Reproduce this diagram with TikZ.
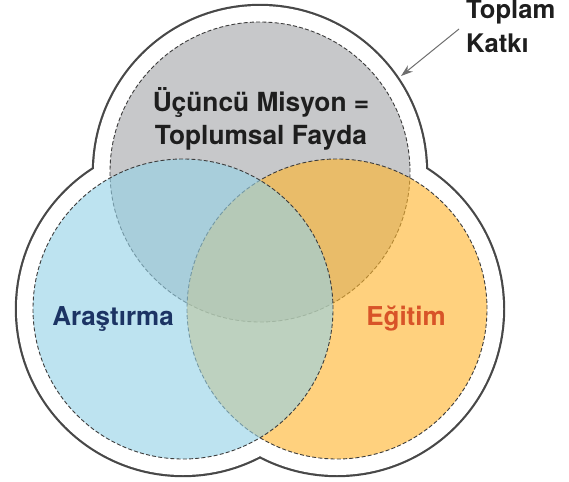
\documentclass[tikz,border=0pt]{standalone}
\usepackage{fontspec}
\setmainfont{TeX Gyre Heros}
\usetikzlibrary{arrows.meta}
\definecolor{outl}{RGB}{72,72,72}
\definecolor{dashc}{RGB}{60,60,60}
\definecolor{grayc}{RGB}{199,200,202}
\definecolor{bluec}{RGB}{150,210,231}
\definecolor{orangec}{RGB}{255,182,47}
\definecolor{navy}{RGB}{28,52,100}
\definecolor{rust}{RGB}{216,84,40}
\definecolor{txt}{RGB}{30,30,30}
\definecolor{arrc}{RGB}{110,110,110}
\tikzset{
  setborder/.style={draw=dashc, line width=0.9pt, dash pattern=on 4pt off 2.2pt},
  bigtxt/.style={font=\bfseries\fontsize{26.3}{32}\selectfont, inner sep=0pt, anchor=base},
}
\begin{document}
\begin{tikzpicture}[x=1pt,y=-1pt]
\useasboundingbox (0,0) rectangle (569,481);
\coordinate (T) at (260,172);
\coordinate (B) at (183,309);
\coordinate (O) at (337,309);
% outer outline (union)
\fill[outl] (T) circle[radius=168.2pt] (B) circle[radius=168.2pt] (O) circle[radius=168.2pt];
\fill[white] (T) circle[radius=166pt] (B) circle[radius=166pt] (O) circle[radius=166pt];
% circles
\fill[grayc] (T) circle[radius=150pt];
\path[setborder] (T) circle[radius=150pt];
\fill[orangec, fill opacity=0.62] (O) circle[radius=150pt];
\path[setborder] (O) circle[radius=150pt];
\fill[bluec, fill opacity=0.62] (B) circle[radius=150pt];
\path[setborder] (B) circle[radius=150pt];
% texts
\node[bigtxt, text=txt] (mis1) at (261,112) {Üçüncü Misyon =};
\node[bigtxt, text=txt] (mis2) at (261,144) {Toplumsal Fayda};
\node[bigtxt, text=navy, font=\bfseries\fontsize{26}{32}\selectfont] (ara) at (113,325) {Araştırma};
\node[bigtxt, text=rust, font=\bfseries\fontsize{26}{32}\selectfont] (egi) at (406,325) {Eğitim};
\node[bigtxt, text=txt, anchor=base west, font=\bfseries\fontsize{25.6}{32}\selectfont] (tk1) at (466,19) {Toplam};
\node[bigtxt, text=txt, anchor=base west, font=\bfseries\fontsize{25.6}{32}\selectfont] (tk2) at (466,53) {Katkı};
\coordinate (arrS) at (459,29);
\coordinate (arrE) at (401,76);
\draw[arrc, line width=1pt, -{Stealth[length=12pt,width=8pt]}] (arrS) -- (arrE);
\end{tikzpicture}
\end{document}
